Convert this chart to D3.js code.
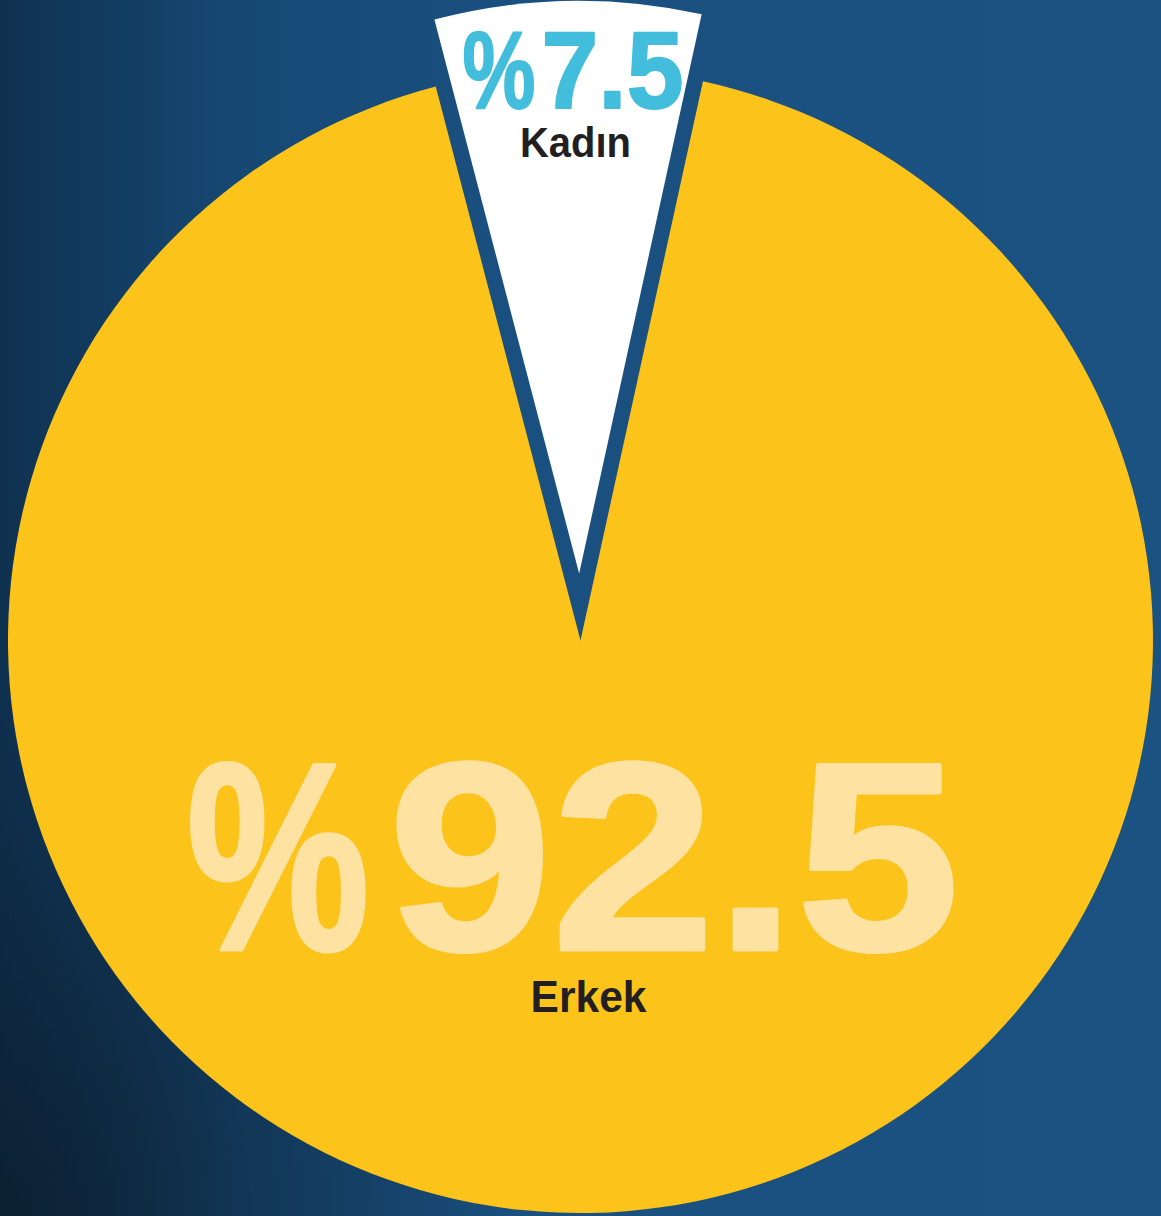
<!DOCTYPE html>
<html>
<head>
<meta charset="utf-8">
<script src="https://cdn.jsdelivr.net/npm/d3@7"></script>
<style>
  html, body { margin: 0; padding: 0; background: #1a5080; }
  svg { display: block; }
</style>
</head>
<body>
<svg id="chart" width="1161" height="1216"></svg>
<script>
// 円グラフのデータ
var labels = ["Kadın", "Erkek"];
var values = [7.5, 92.5];
var sliceColors = ["#ffffff", "#fcc31a"];
var valueColors = ["#42bedc", "#fee2a2"];

var width = 1161;
var height = 1216;
var cx = 580.5;
var cy = 640.5;
var radius = 572.5;
var explode = 67; // Kadın の切り出し量

var svg = d3.select("#chart");

// 背景のグラデーション(左側が暗い)
var defs = svg.append("defs");
var grad = defs.append("linearGradient")
  .attr("id", "bgGrad")
  .attr("x1", "0").attr("x2", "1").attr("y1", "0").attr("y2", "0");
grad.append("stop").attr("offset", "0").attr("stop-color", "#0f3150");
grad.append("stop").attr("offset", "0.2").attr("stop-color", "#164873");
grad.append("stop").attr("offset", "0.45").attr("stop-color", "#1a5080");
grad.append("stop").attr("offset", "1").attr("stop-color", "#1a5282");
var shade = defs.append("radialGradient")
  .attr("id", "cornerShade")
  .attr("cx", "0").attr("cy", "1").attr("r", "0.45");
shade.append("stop").attr("offset", "0").attr("stop-color", "#0b1a28").attr("stop-opacity", 0.75);
shade.append("stop").attr("offset", "1").attr("stop-color", "#0b1a28").attr("stop-opacity", 0);

svg.append("rect").attr("width", width).attr("height", height).attr("fill", "url(#bgGrad)");
svg.append("rect").attr("width", width).attr("height", height).attr("fill", "url(#cornerShade)");

// パイの角度(Kadın が真上に来るように回転)
var rot = -0.02;
var start = -Math.PI * values[0] / 100 + rot;
var pie = d3.pie()
  .sort(null)
  .startAngle(start)
  .endAngle(start + Math.PI * 2);
var arc = d3.arc().innerRadius(0).outerRadius(radius);
var arcs = pie(values);

var g = svg.append("g").attr("transform", `translate(${cx},${cy})`);

// 切り出し方向のオフセット
function offset(d, i) {
  if (i != 0) return [0, 0];
  var mid = (d.startAngle + d.endAngle) / 2;
  return [Math.sin(mid) * explode, -Math.cos(mid) * explode];
}

g.selectAll("path.slice")
  .data(arcs)
  .enter()
  .append("path")
  .attr("class", "slice")
  .attr("d", arc)
  .attr("fill", (d, i) => sliceColors[i])
  .attr("transform", (d, i) => {
    var o = offset(d, i);
    return `translate(${o[0]},${o[1]})`;
  });

// ラベル(値と名前) 位置は円の中心からの相対値
var fontFamily = "'Liberation Sans', Arial, sans-serif";
var labelPos = [
  { pctX: -118, pctLen: 73, numX: -39, numLen: 142, valueY: -533, valueSize: 110, nameX: -5, nameY: -484, nameSize: 42, nameLen: 111 },
  { pctX: -394, pctLen: 183, numX: -192, numLen: 571, valueY: 309, valueSize: 268, nameX: 8, nameY: 371, nameSize: 45, nameLen: 116 }
];

function addValueText(cls, xKey, lenKey, textFn) {
  g.selectAll("text." + cls)
    .data(arcs)
    .enter()
    .append("text")
    .attr("class", cls)
    .attr("x", (d, i) => labelPos[i][xKey])
    .attr("y", (d, i) => labelPos[i].valueY)
    .attr("font-family", fontFamily)
    .attr("font-weight", "bold")
    .attr("font-size", (d, i) => labelPos[i].valueSize)
    .attr("textLength", (d, i) => labelPos[i][lenKey])
    .attr("lengthAdjust", "spacingAndGlyphs")
    .attr("fill", (d, i) => valueColors[i])
    .attr("stroke", (d, i) => valueColors[i])
    .attr("stroke-width", (d, i) => (i == 0 ? 2 : 4))
    .attr("stroke-linejoin", "round")
    .text(textFn);
}
addValueText("pct", "pctX", "pctLen", () => "%");
addValueText("num", "numX", "numLen", (d) => d.data);

g.selectAll("text.name")
  .data(arcs)
  .enter()
  .append("text")
  .attr("class", "name")
  .attr("x", (d, i) => labelPos[i].nameX)
  .attr("y", (d, i) => labelPos[i].nameY)
  .attr("text-anchor", "middle")
  .attr("font-family", fontFamily)
  .attr("font-weight", "bold")
  .attr("font-size", (d, i) => labelPos[i].nameSize)
  .attr("textLength", (d, i) => labelPos[i].nameLen)
  .attr("lengthAdjust", "spacingAndGlyphs")
  .attr("fill", "#231f20")
  .text((d, i) => labels[i]);
</script>
</body>
</html>
